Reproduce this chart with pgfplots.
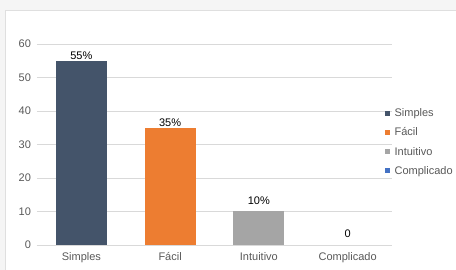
\documentclass[border=0pt]{standalone}
\usepackage{pgfplots}
\pgfplotsset{compat=1.18}
\usepackage{fontspec}
\setmainfont{Liberation Sans}
\definecolor{cSimples}{HTML}{44546A}
\definecolor{cFacil}{HTML}{ED7D31}
\definecolor{cIntuitivo}{HTML}{A5A5A5}
\definecolor{cComplicado}{HTML}{4472C4}
\definecolor{gridgray}{HTML}{D9D9D9}
\definecolor{ticktext}{HTML}{595959}
\begin{document}
\begin{tikzpicture}[x=1pt,y=1pt]
\path[use as bounding box] (0,0) rectangle (456,270);
\fill[gray!8] (0,0) rectangle (456,270);
\draw[gray!25, fill=white, line width=0.8pt] (5.5,-3) rectangle (462,259.5);
\begin{axis}[
  at={(37pt,25pt)}, anchor=south west,
  scale only axis, width=355pt, height=201pt,
  ybar, bar width=51pt,
  ymin=0, ymax=60, xmin=-0.5, xmax=3.5,
  xtick={0,1,2,3}, xticklabels={Simples,Fácil,Intuitivo,Complicado},
  ytick={0,10,20,30,40,50,60},
  ymajorgrids, grid style={gridgray, line width=0.75pt},
  axis x line*=bottom, axis y line*=left,
  x axis line style={gridgray, line width=0.75pt, -},
  y axis line style={draw=none},
  major tick length=0pt, tick style={draw=none},
  tick label style={font=\fontsize{11}{13}\selectfont, text=ticktext},
  /pgf/number format/assume math mode=true,
  yticklabel style={xshift=-2.5pt},
  xticklabel style={yshift=-4pt},
  legend cell align=left,
  legend style={at={(0.980,0.682)}, anchor=north west, draw=none, fill=none,
    font=\fontsize{11}{13}\selectfont, text=ticktext, row sep=8.7pt, inner sep=0pt,
    nodes={inner sep=0.5pt}},
  every node near coord/.append style={font=\fontsize{11}{13}\selectfont, text=black},
]
\addplot[fill=cSimples, draw=none, bar shift=0pt, nodes near coords={55\%}, every node near coord/.append style={yshift=-2.5pt},
  legend image code/.code={\fill[cSimples] (0pt,-2.5pt) rectangle (5pt,2.5pt); \path (9pt,0pt);}] coordinates {(0,55)};
\addplot[fill=cFacil, draw=none, bar shift=0pt, nodes near coords={35\%}, every node near coord/.append style={yshift=-2.5pt},
  legend image code/.code={\fill[cFacil] (0pt,-2.5pt) rectangle (5pt,2.5pt); \path (9pt,0pt);}] coordinates {(1,35)};
\addplot[fill=cIntuitivo, draw=none, bar shift=0pt, nodes near coords={10\%}, every node near coord/.append style={yshift=3.5pt},
  legend image code/.code={\fill[cIntuitivo] (0pt,-2.5pt) rectangle (5pt,2.5pt); \path (9pt,0pt);}] coordinates {(2,10)};
\addplot[fill=none, draw=none, bar shift=0pt, nodes near coords={0}, every node near coord/.append style={yshift=3.5pt},
  legend image code/.code={\fill[cComplicado] (0pt,-2.5pt) rectangle (5pt,2.5pt); \path (9pt,0pt);}] coordinates {(3,0)};
\legend{Simples,Fácil,Intuitivo,Complicado}
\end{axis}
\end{tikzpicture}
\end{document}
